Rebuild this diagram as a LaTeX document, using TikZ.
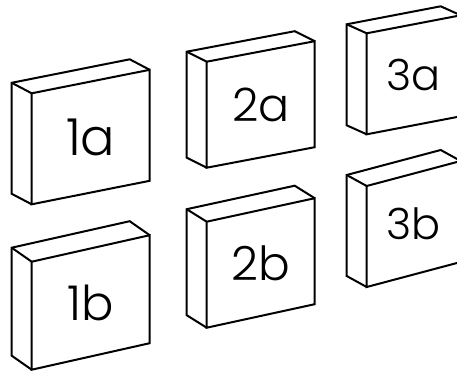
\documentclass[tikz,border=0pt]{standalone}
\usepackage{fontspec}
\setmainfont{Poppins}[UprightFont=* Light]
\usetikzlibrary{calc}

% #1 name, #2 #3 front top left, #4 width, #5 height, #6 rise, #7 depth, #8 size, #9 label
\newcommand{\slab}[9]{%
    \coordinate (#1-tl) at (#2,#3);
    \coordinate (#1-tr) at ($(#1-tl)+(#4,-#6)$);
    \coordinate (#1-br) at ($(#1-tr)+(0,#5)$);
    \coordinate (#1-bl) at ($(#1-tl)+(0,#5)$);
    \draw[slabedge] (#1-tl) -- (#1-tr) -- (#1-br) -- (#1-bl) -- cycle;
    \draw[slabedge] (#1-bl) -- ++(-20,-#7) coordinate (#1-bbl)
        -- ($(#1-tl)+(-20,-#7)$) coordinate (#1-btl)
        -- ($(#1-tr)+(-20,-#7)$) coordinate (#1-btr) -- (#1-tr);
    \draw[slabedge] (#1-btl) -- (#1-tl);
    \node[slablabel, font=\fontsize{#8}{#8}\selectfont] (#1)
        at ($(#1-tl)!0.5!(#1-br)$) {#9};
}

\begin{document}
\begin{tikzpicture}[%
    x=1pt,
    y=-1pt,
    slabedge/.style={draw=black, line width=2pt},
    slablabel/.style={inner sep=0pt, text=black}
    ]

    \useasboundingbox (0,0) rectangle (457,372);
    \clip (0,0) rectangle (457,372);

    \slab{1a}{31.7}{93.3}{118}{111}{23.5}{10.5}{51}{1a}
    \slab{2a}{206.7}{61.7}{108}{106}{20.5}{10}{46}{2a}
    \slab{3a}{366.7}{33.3}{94}{101}{18}{9}{43}{3a}

    \slab{1b}{31.7}{261.7}{118}{108}{26.5}{14}{48}{1b}
    \slab{2b}{206.7}{221.7}{108}{106}{23.5}{12.5}{47}{2b}
    \slab{3b}{366.7}{186}{94}{101}{25}{11}{43}{3b}

\end{tikzpicture}
\end{document}
